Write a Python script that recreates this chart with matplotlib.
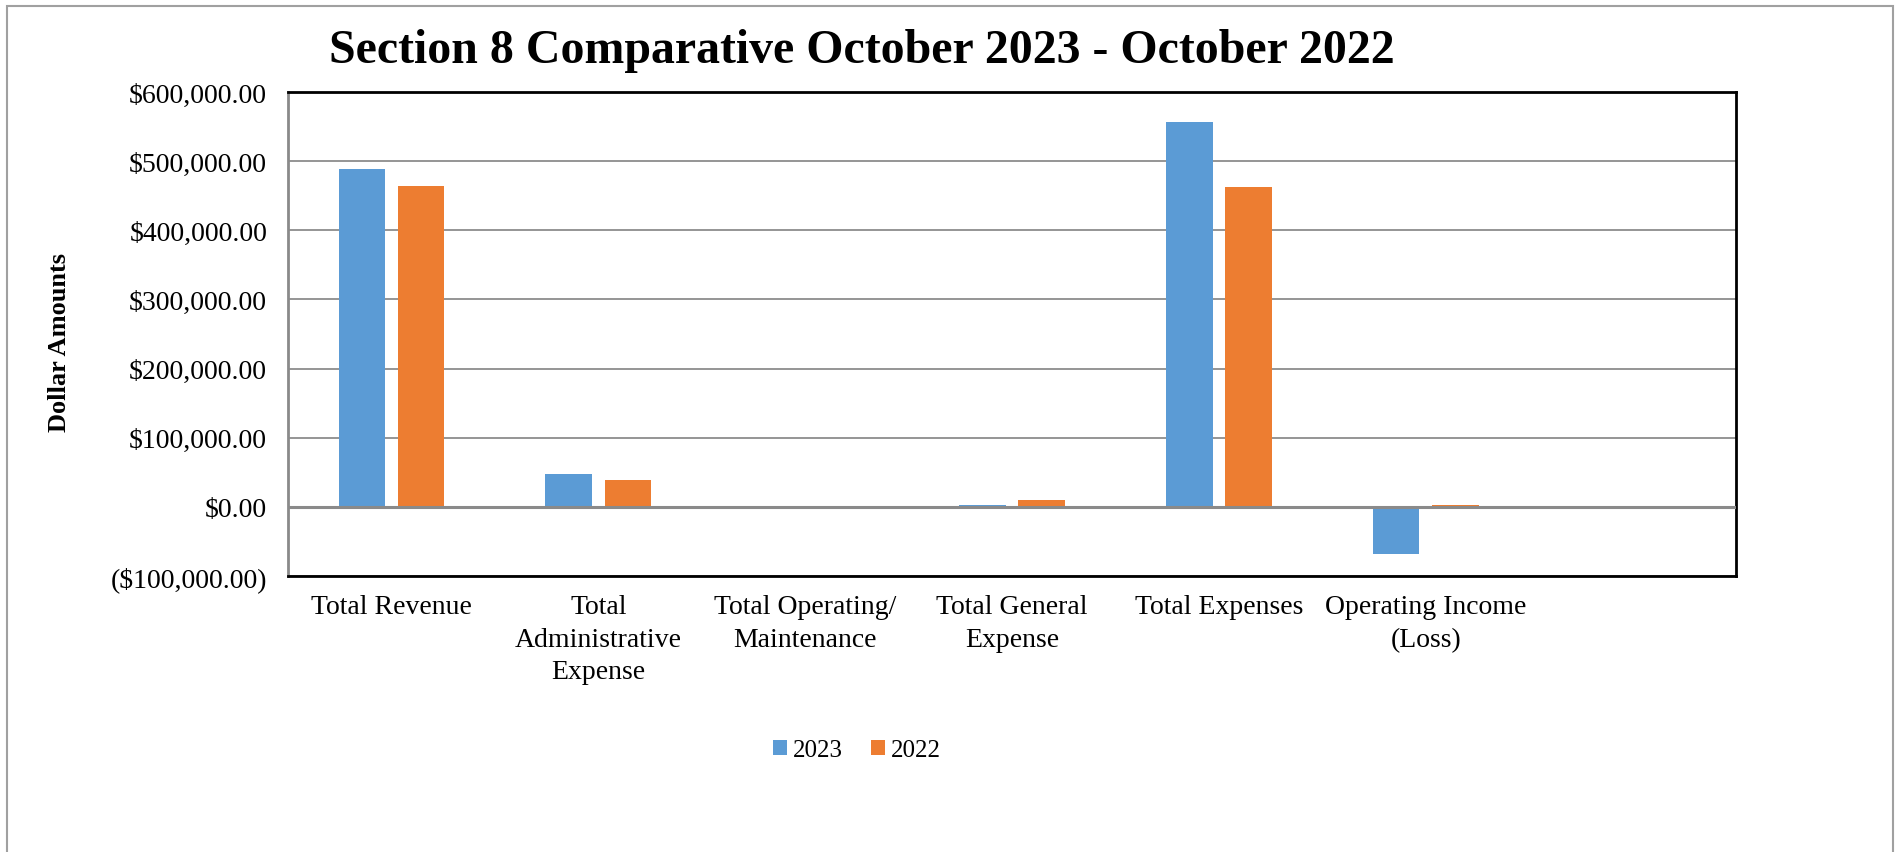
import matplotlib
matplotlib.use("Agg")
import matplotlib.pyplot as plt
import numpy as np
from matplotlib.patches import Rectangle
from matplotlib.ticker import FuncFormatter, MultipleLocator

plt.rcParams['font.family'] = ['Liberation Serif', 'DejaVu Serif']

categories = ["Total Revenue", "Total\nAdministrative\nExpense", "Total Operating/\nMaintenance",
              "Total General\nExpense", "Total Expenses", "Operating Income\n(Loss)", ""]
values_2023 = [488700, 46800, 0, 3400, 556200, -67500, 0]
values_2022 = [464500, 39000, 0, 9200, 462100, 3000, 0]
series_names = ["2023", "2022"]
title = "Section 8 Comparative October 2023 - October 2022"
ylabel = "Dollar Amounts"

BLUE = "#5B9BD5"
ORANGE = "#ED7D31"

fig = plt.figure(figsize=(18.98, 8.53), dpi=100)
ax = fig.add_axes([288/1898, 1-577/853, (1736-288)/1898, (577-93)/853])

x = np.arange(len(categories))
w = 0.225
off = 0.143
ax.bar(x - off, values_2023, width=w, color=BLUE, label=series_names[0], zorder=3)
ax.bar(x + off, values_2022, width=w, color=ORANGE, label=series_names[1], zorder=3)

ax.set_xlim(-0.5, len(categories) - 0.5)
ax.set_ylim(-100000, 600000)
ax.yaxis.set_major_locator(MultipleLocator(100000))

def fmt(v, pos):
    if v < 0:
        return "(${:,.2f})".format(-v)
    return "${:,.2f}".format(v)
ax.yaxis.set_major_formatter(FuncFormatter(fmt))

ax.grid(axis='y', color='#8c8c8c', linewidth=1.3, zorder=1)
ax.axhline(0, color='#8a8a8a', linewidth=2.2, zorder=4)

ax.set_xticks(x)
ax.set_xticklabels(categories, fontsize=20, linespacing=1.4, va='top')
ax.tick_params(axis='x', length=0, pad=13)
ax.tick_params(axis='y', length=0, pad=15, labelsize=20)

for s in ['top', 'right', 'bottom']:
    ax.spines[s].set_color('black')
    ax.spines[s].set_linewidth(2)
ax.spines['left'].set_color('#8a8a8a')
ax.spines['left'].set_linewidth(2)

fig.text(862/1898, 1-51/853, title, fontsize=34.5, fontweight='bold', ha='center', va='center')
fig.text(60/1898, 1-343/853, ylabel, fontsize=19, fontweight='bold', rotation=90, ha='center', va='center')

leg = fig.legend(loc='center', bbox_to_anchor=(857/1898, 1-751/853), ncol=2, frameon=False,
                 fontsize=18, handlelength=0.55, handleheight=0.55, handletextpad=0.25, columnspacing=1.1)

fig.patches.append(Rectangle((7/1898, -0.01), (1893-7)/1898, (853-7)/853 + 0.01,
                             transform=fig.transFigure, fill=False, edgecolor='#a0a0a0', linewidth=1.5))

fig.savefig("out.png", dpi=100, facecolor='white')
